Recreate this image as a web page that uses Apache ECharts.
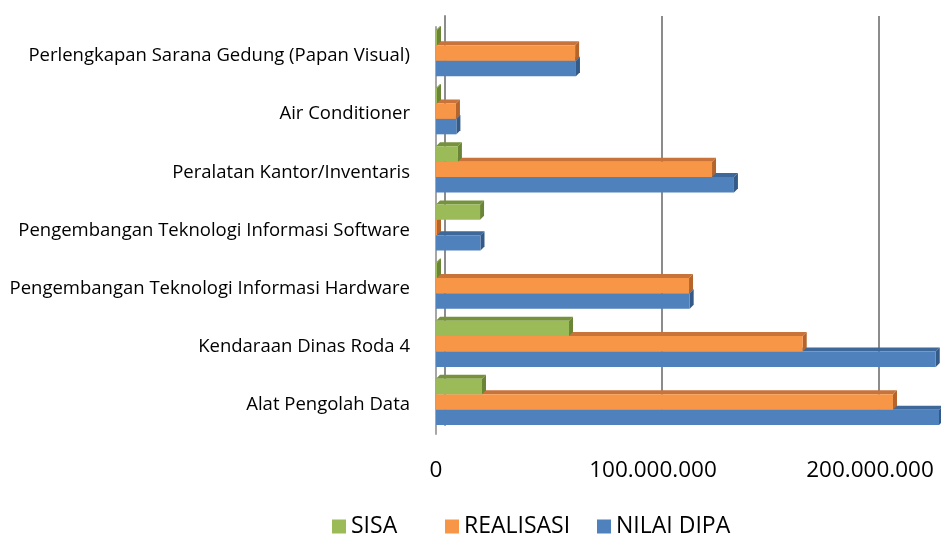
<!DOCTYPE html>
<html>
<head>
<meta charset="utf-8">
<script src="https://cdn.jsdelivr.net/npm/echarts@6/dist/echarts.min.js"></script>
<style>
  html, body { margin: 0; padding: 0; background: #fff; }
  #chart { width: 941px; height: 540px; }
</style>
</head>
<body>
<div id="chart"></div>
<script>
// kategori dari bawah ke atas
const categories = [
  'Alat Pengolah Data',
  'Kendaraan Dinas Roda 4',
  'Pengembangan Teknologi Informasi Hardware',
  'Pengembangan Teknologi Informasi Software',
  'Peralatan Kantor/Inventaris',
  'Air Conditioner',
  'Perlengkapan Sarana Gedung (Papan Visual)'
]
const sisa =      [21200000, 61300000,    300000, 20300000, 10100000,   200000,   400000]
const realisasi = [210600000, 169000000, 116600000,  200000, 127200000, 9200000, 64100000]
const nilaiDipa = [231800000, 230300000, 116900000, 20500000, 137300000, 9400000, 64500000]

const seriesNames = ['SISA', 'REALISASI', 'NILAI DIPA']
// warna: depan, atas, samping
const palette = [
  ['#9BBB59', '#76923C', '#6A8535'],
  ['#F79646', '#C8733A', '#B5652C'],
  ['#4F81BD', '#3D6899', '#345A87']
]
const legendLeft = [327, 440, 592]

const chart = echarts.init(document.getElementById('chart'))

// bar 3D sederhana: muka depan + atas + samping
const makeRender = (k) => (params, api) => {
  const cat = api.value(1)
  const val = api.value(0)
  const p0 = api.coord([0, cat])
  const p1 = api.coord([val, cat])
  const band = api.size([0, 1])[1]
  const h = band * 0.265
  const d = 4
  const y = p0[1] - 1.5 * h + k * h - 3
  const x0 = p0[0]
  const x1 = Math.max(p1[0], x0 + 1)
  const c = palette[k]
  return {
    type: 'group',
    children: [
      { type: 'polygon', shape: { points: [[x0, y], [x0 + d, y - d], [x1 + d, y - d], [x1, y]] }, style: { fill: c[1] } },
      { type: 'polygon', shape: { points: [[x1, y], [x1 + d, y - d], [x1 + d, y + h - d], [x1, y + h]] }, style: { fill: c[2] } },
      { type: 'rect', shape: { x: x0, y: y, width: x1 - x0, height: h }, style: { fill: c[0] } }
    ]
  }
}

const allData = [sisa, realisasi, nilaiDipa]

const option = {
  animation: false,
  textStyle: { fontFamily: 'Open Sans' },
  legend: seriesNames.map((name, k) => ({
    data: [name],
    left: legendLeft[k],
    top: 510,
    itemWidth: 14,
    itemHeight: 14,
    itemGap: 8,
    icon: 'rect',
    textStyle: { fontSize: 23, color: '#000', fontFamily: 'Open Sans' }
  })),
  grid: [
    // grid depan (bar)
    { left: 436, top: 27, height: 407, width: 651, outerBoundsMode: 'none' },
    // dinding belakang (gridline)
    { left: 445, top: 16, height: 409, width: 651, outerBoundsMode: 'none' }
  ],
  xAxis: [
    {
      type: 'value', gridIndex: 0, min: 0, max: 300000000, interval: 100000000,
      axisLine: { show: false },
      axisTick: { show: false },
      splitLine: { show: false },
      axisLabel: {
        margin: 25,
        fontSize: 22.5,
        color: '#000',
        formatter: v => v === 0 ? '0' : v.toLocaleString('de-DE')
      }
    },
    {
      type: 'value', gridIndex: 1, min: 0, max: 300000000, interval: 100000000,
      axisLine: { show: false },
      axisTick: { show: false },
      axisLabel: { show: false },
      splitLine: { show: true, lineStyle: { color: '#8C8C8C', width: 2 } }
    }
  ],
  yAxis: [
    {
      type: 'category', gridIndex: 0, data: categories,
      axisLine: { show: true, lineStyle: { color: '#A6A6A6', width: 2 } },
      axisTick: { show: false },
      axisLabel: { margin: 26, fontSize: 18.5, color: '#000' }
    },
    {
      type: 'category', gridIndex: 1, data: categories,
      axisLine: { show: true, lineStyle: { color: '#8C8C8C', width: 2 } },
      axisTick: { show: false },
      axisLabel: { show: false }
    }
  ],
  series: seriesNames.map((name, k) => ({
    name: name,
    type: 'custom',
    xAxisIndex: 0,
    yAxisIndex: 0,
    z: 10 - k,
    itemStyle: { color: palette[k][0] },
    encode: { x: 0, y: 1 },
    renderItem: makeRender(k),
    data: allData[k].map((v, i) => [v, i])
  }))
}

chart.setOption(option)

window.addEventListener('resize', () => {
  chart && chart.resize()
})
</script>
</body>
</html>
